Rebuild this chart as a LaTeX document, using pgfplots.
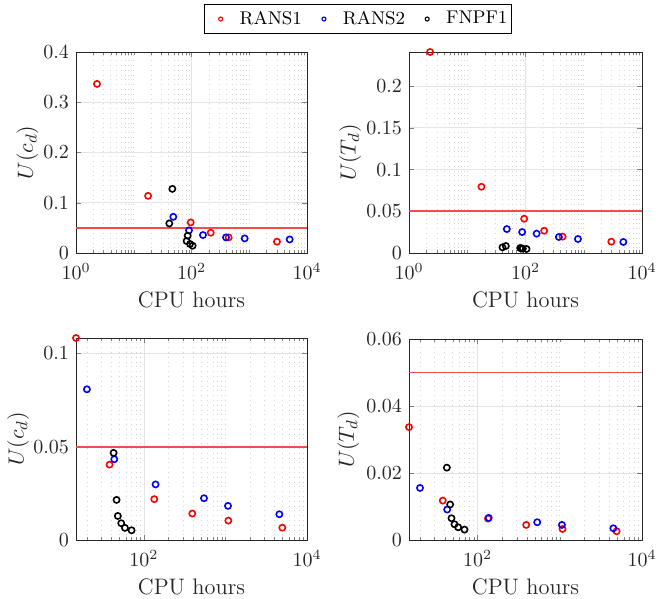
\documentclass[border=0pt]{standalone}
\usepackage{pgfplots}
\pgfplotsset{compat=1.18}
\definecolor{hlinecol}{RGB}{245,75,75}
\definecolor{axgray}{RGB}{38,38,38}
\pgfplotsset{
  every axis/.append style={
    scale only axis, clip=false,
    tick align=inside, tick pos=both,
    major tick length=2.5pt, minor tick length=1.4pt,
    axis line style={axgray, line width=0.4pt},
    xmajorgrids, ymajorgrids, xminorgrids,
    major grid style={gray!22, line width=0.4pt},
    minor grid style={gray!32, dotted, line width=0.3pt},
    minor xtick={2,3,4,5,6,7,8,9,10,20,30,40,50,60,70,80,90,200,300,400,500,600,700,800,900,1000,2000,3000,4000,5000,6000,7000,8000,9000},
    xmax=10000,
    ymin=0,
    xlabel={CPU hours},
    tick label style={font=\fontsize{10.3}{12}\selectfont, axgray},
    xticklabel style={yshift=-1.8pt},
    label style={font=\fontsize{11.2}{13}\selectfont, axgray},
    xlabel style={yshift=1pt},
    yticklabel style={/pgf/number format/fixed, /pgf/number format/precision=2},
    scaled y ticks=false,
  },
}
\tikzset{
  rmark/.style={mark=o, mark size=1.55pt, red, line width=0.8pt},
  bmark/.style={mark=o, mark size=1.55pt, blue, line width=0.8pt},
  kmark/.style={mark=o, mark size=1.55pt, black, line width=0.8pt},
  hlstyle/.style={hlinecol, line width=0.9pt},
}
\begin{document}
\begin{tikzpicture}
\useasboundingbox (0,0) rectangle (328pt,-299pt);
% top-left
\begin{axis}[xmode=log, at={(38pt,-26pt)}, anchor=north west, width=115.5pt, height=100.5pt,
  xmin=1, ymax=0.4, xtick={1,100,10000}, ytick={0,0.1,0.2,0.3,0.4},
  ylabel={$U(c_d)$},
  ylabel style={at={(axis description cs:-0.21,0.5)}, anchor=center},
  legend columns=3,
  legend image code/.code={\node[inner sep=0pt, minimum width=8.2pt, minimum height=1pt] at (-2.9pt,0pt) {}; \draw[mark size=1pt, line width=0.55pt] plot coordinates {(0pt,0pt)};},
  legend style={at={(1.221,1.164)}, anchor=center, draw=black, line width=0.5pt, fill=white,
    font=\fontsize{9.2}{11}\selectfont, inner xsep=1pt, inner ysep=1.2pt,
    nodes={inner xsep=1pt},
    /tikz/every odd column/.append style={column sep=7.3pt},
    /tikz/every even column/.append style={column sep=3pt}},
]
\addplot[hlstyle, forget plot] coordinates {(1,0.05) (10000,0.05)};
\addplot[only marks, rmark] coordinates {(2.31,0.3365) (17.7,0.1137) (96.8,0.0608) (215,0.0403) (440,0.031) (3020,0.0225)};
\addlegendentry{RANS1}
\addplot[only marks, bmark] coordinates {(48.4,0.072) (90.5,0.045) (158,0.0357) (396,0.031) (833,0.029) (5010,0.027)};
\addlegendentry{RANS2}
\addplot[only marks, kmark] coordinates {(46.6,0.1276) (41.3,0.0588) (85.9,0.0344) (82.4,0.0238) (94.2,0.0179) (104.7,0.0145)};
\addlegendentry{FNPF1}
\end{axis}
% top-right
\begin{axis}[xmode=log, at={(204.5pt,-26pt)}, anchor=north west, width=116.5pt, height=100.5pt,
  xmin=1, ymax=0.241, xtick={1,100,10000}, ytick={0,0.05,0.1,0.15,0.2},
  ylabel={$U(T_d)$},
  ylabel style={at={(axis description cs:-0.253,0.5)}, anchor=center},
]
\addplot[hlstyle, forget plot] coordinates {(1,0.05) (10000,0.05)};
\addplot[only marks, rmark] coordinates {(2.30,0.241) (17.5,0.0794) (94.8,0.0411) (209,0.0267) (433,0.0196) (2970,0.0136)};
\addplot[only marks, bmark] coordinates {(47.8,0.0287) (87.6,0.0251) (155,0.0232) (374,0.0192) (794,0.0168) (4780,0.0132)};
\addplot[only marks, kmark] coordinates {(40.2,0.0068) (45.9,0.0084) (81,0.006) (86,0.0055) (90,0.0052) (104,0.0048)};
\end{axis}
% bottom-left
\begin{axis}[xmode=log, at={(38pt,-169pt)}, anchor=north west, width=115.5pt, height=101pt,
  xmin=14.7, ymax=0.1083, xtick={100,10000}, ytick={0,0.05,0.1},
  ylabel={$U(c_d)$},
  ylabel style={at={(axis description cs:-0.25,0.5)}, anchor=center},
]
\addplot[hlstyle, forget plot] coordinates {(14.7,0.05) (10000,0.05)};
\addplot[only marks, rmark] coordinates {(14.7,0.1083) (37.9,0.0404) (134,0.0219) (392,0.0142) (1084,0.0104) (4980,0.0066)};
\addplot[only marks, bmark] coordinates {(20.0,0.0808) (43.3,0.0433) (139,0.0298) (545,0.0224) (1074,0.0183) (4580,0.0138)};
\addplot[only marks, kmark] coordinates {(42.5,0.0467) (46.2,0.0215) (47.9,0.0129) (52.7,0.0090) (58.5,0.0065) (70.6,0.0052)};
\end{axis}
% bottom-right
\begin{axis}[xmode=log, at={(204.5pt,-169.5pt)}, anchor=north west, width=116.5pt, height=100.5pt,
  xmin=14.7, ymax=0.06, xtick={100,10000}, ytick={0,0.02,0.04,0.06},
  ylabel={$U(T_d)$},
  ylabel style={at={(axis description cs:-0.26,0.5)}, anchor=center},
]
\addplot[hlstyle, forget plot] coordinates {(14.7,0.05) (10000,0.05)};
\addplot[only marks, rmark] coordinates {(14.7,0.0337) (37.8,0.01176) (134,0.0064) (391,0.0045) (1081,0.0033) (4910,0.0026)};
\addplot[only marks, bmark] coordinates {(20.0,0.01555) (42.8,0.0091) (137,0.0066) (532,0.0053) (1062,0.0045) (4480,0.0035)};
\addplot[only marks, kmark] coordinates {(42.4,0.0216) (46.5,0.0106) (48.3,0.0065) (52.5,0.0047) (58.2,0.0038) (69.5,0.0031)};
\end{axis}
\end{tikzpicture}
\end{document}
